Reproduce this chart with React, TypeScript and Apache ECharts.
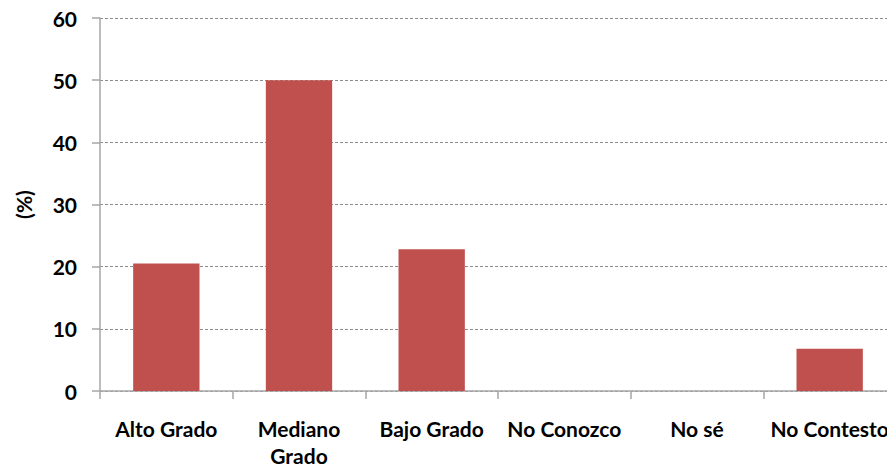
import React, { useEffect, useRef } from "react";
import * as echarts from "echarts";

const categories = ["Alto Grado", "Mediano\nGrado", "Bajo Grado", "No Conozco", "No sé", "No Contesto"];
const values = [20.5, 50, 22.8, 0, 0, 6.8];
const yTicks = { min: 0, max: 60, interval: 10 };

const FONT = "Lato, 'Open Sans', sans-serif";
const AXIS_GRAY = "#a6a6a6";

export default function App() {
  const ref = useRef<HTMLDivElement>(null);

  useEffect(() => {
    if (!ref.current) return;
    const chart = echarts.init(ref.current, null, { renderer: "svg" });
    chart.setOption({
      animation: false,
      backgroundColor: "#ffffff",
      grid: {
        left: 100,
        top: 18,
        width: 796,
        height: 373,
        containLabel: false,
        outerBoundsMode: "none",
      },
      xAxis: {
        type: "category",
        data: categories,
        axisLine: { lineStyle: { color: AXIS_GRAY, width: 1.5 } },
        axisTick: { show: true, length: 8, alignWithLabel: false, lineStyle: { color: AXIS_GRAY, width: 1.5 } },
        axisLabel: {
          color: "#000",
          fontFamily: FONT,
          fontWeight: "bold",
          fontSize: 21,
          margin: 24,
          lineHeight: 27,
          interval: 0,
          hideOverlap: false,
        },
      },
      yAxis: {
        type: "value",
        min: yTicks.min,
        max: yTicks.max,
        interval: yTicks.interval,
        name: "(%)",
        nameLocation: "middle",
        nameGap: 66,
        nameRotate: 90,
        nameTextStyle: { color: "#000", fontFamily: FONT, fontWeight: "bold", fontSize: 21 },
        axisLine: { show: true, lineStyle: { color: AXIS_GRAY, width: 1.5 } },
        axisTick: { show: true, length: 8, lineStyle: { color: AXIS_GRAY, width: 1.5 } },
        axisLabel: { color: "#000", fontFamily: FONT, fontWeight: "bold", fontSize: 21, margin: 23 },
        splitLine: { show: true, lineStyle: { color: "#8c8c8c", type: [3, 2], width: 1 } },
      },
      series: [
        {
          type: "bar",
          data: values,
          barCategoryGap: "50%",
          itemStyle: { color: "#c0504d" },
        },
      ],
    });
    return () => chart.dispose();
  }, []);

  return <div ref={ref} style={{ width: 887, height: 468, position: "absolute", left: 0, top: 0 }} />;
}
